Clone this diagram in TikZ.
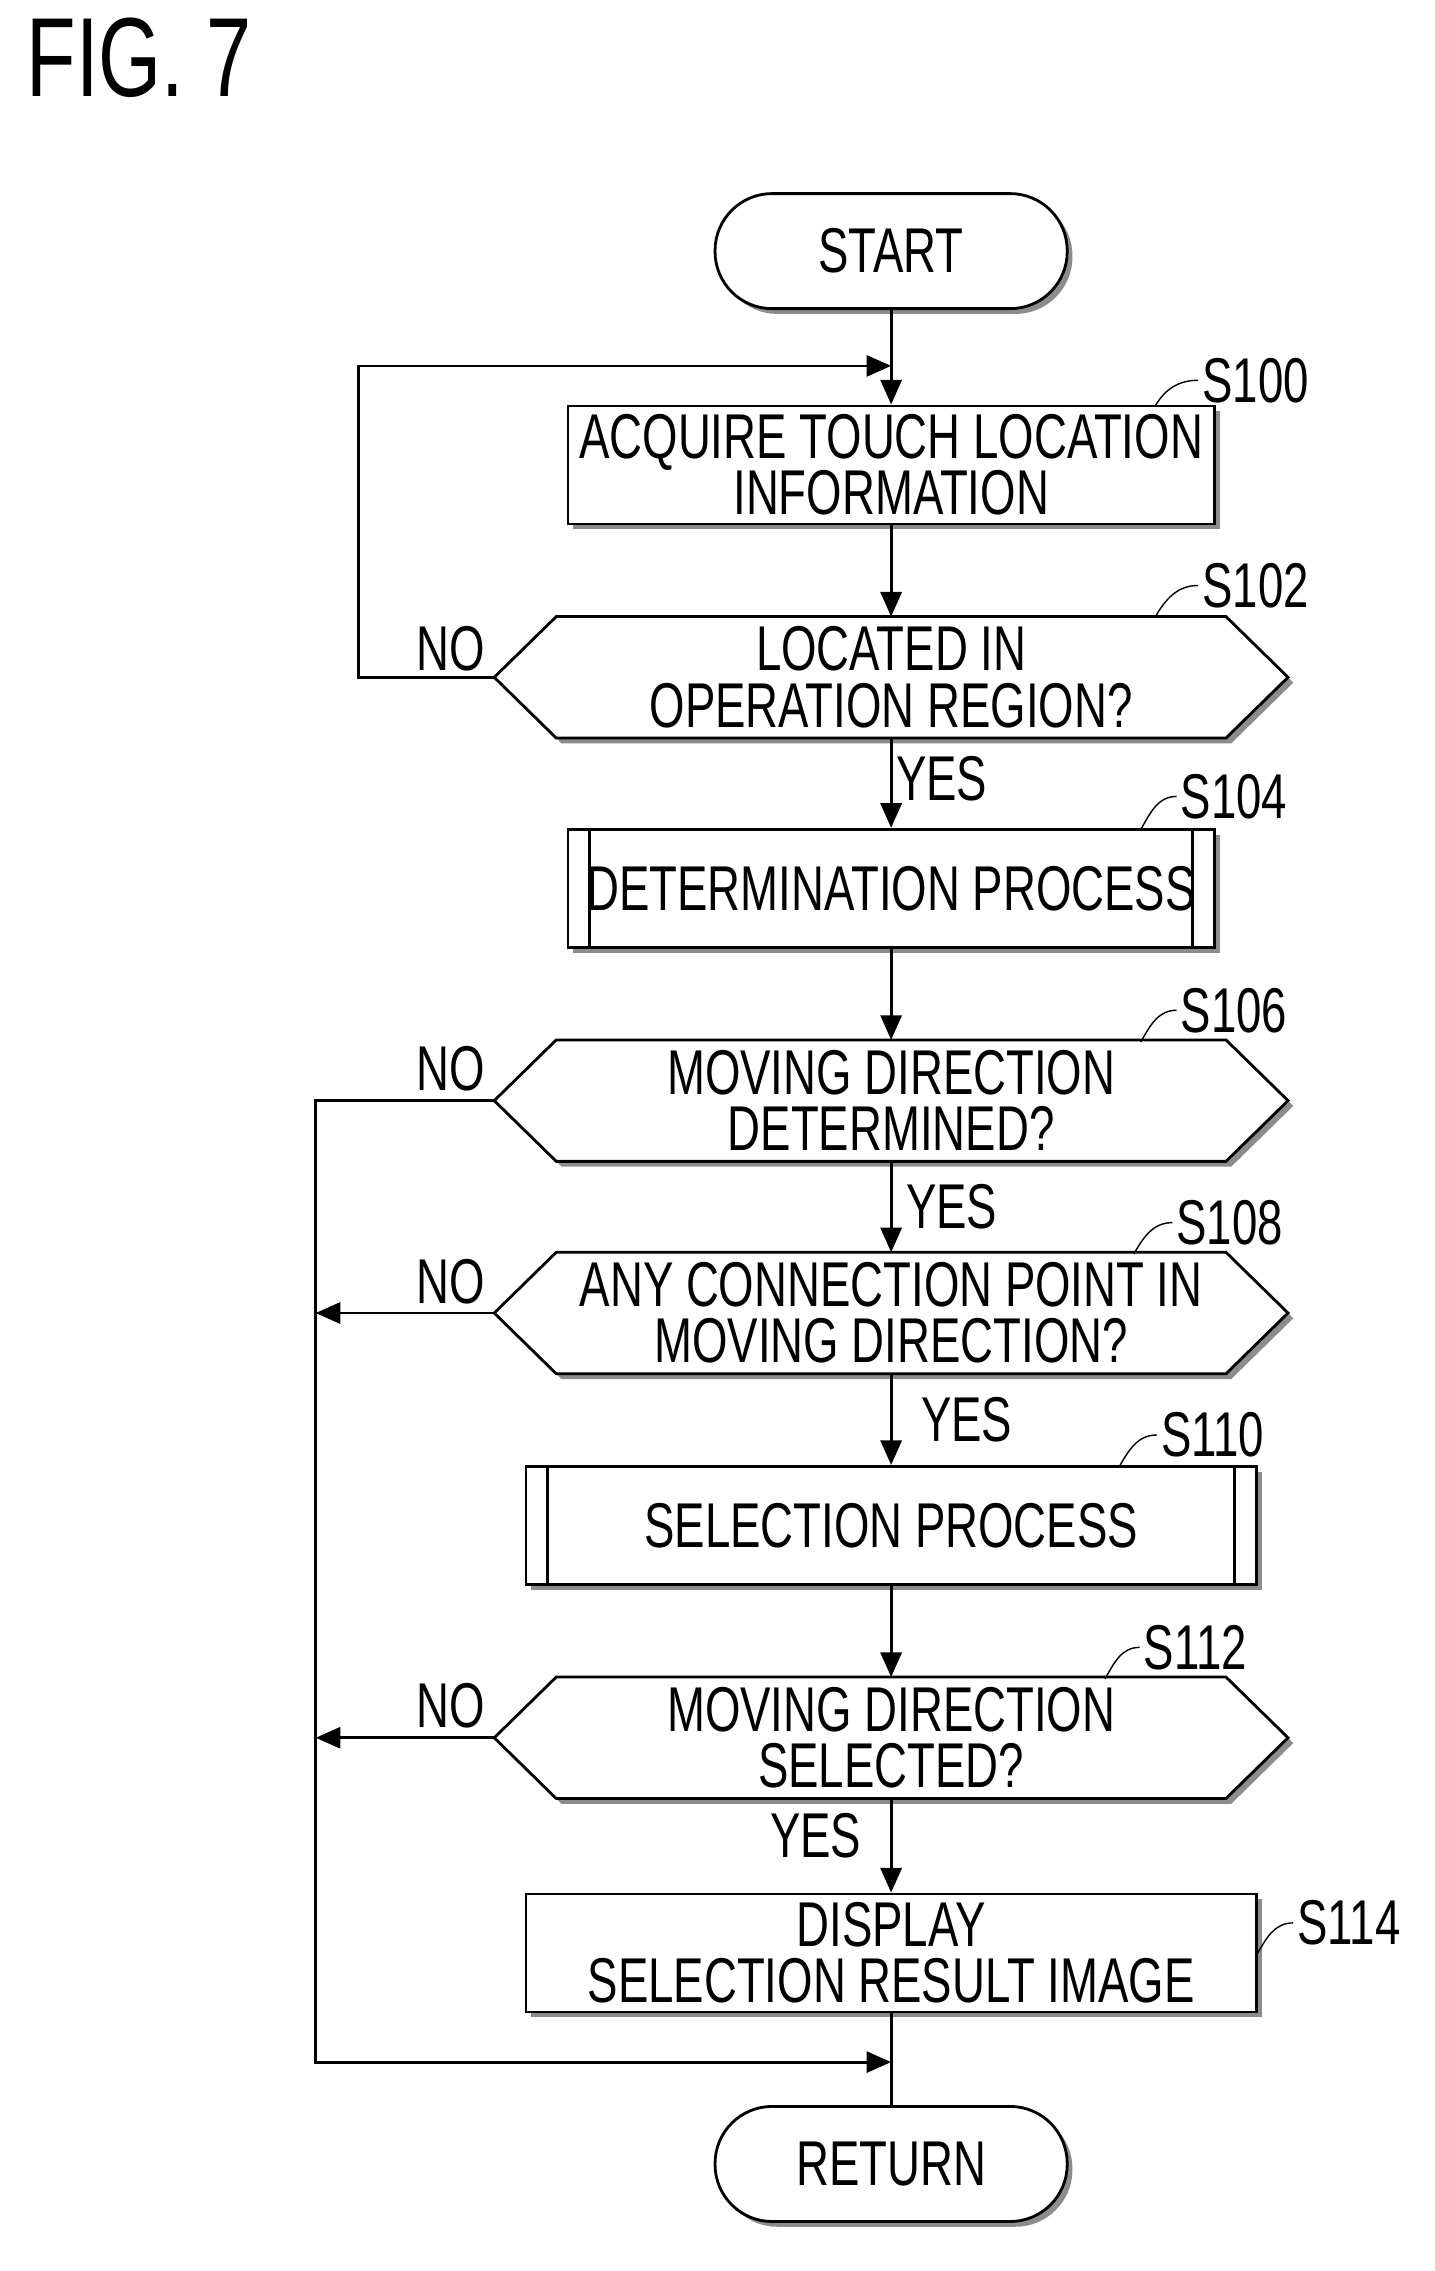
\documentclass[tikz,border=0pt]{standalone}
\usepackage{fontspec}
\setmainfont{Liberation Sans}[FakeStretch=0.72]
\usetikzlibrary{positioning, arrows.meta, shadows}

\tikzset{box/.style =
        {
            rectangle,
            draw,
            thick,
            fill=white,
            drop shadow={shadow xshift=1.5pt, shadow yshift=-1.5pt, fill=black!45, opacity=1},
            minimum width=6.46cm,
            minimum height=1.18cm,
            align=center,
            inner sep=0pt,
            font=\fontsize{18}{16}\selectfont
        }
}
\tikzset{wide/.style = {box, minimum width=7.3cm}}
\tikzset{term/.style = {box, rounded corners=0.57cm, minimum width=3.52cm, minimum height=1.15cm}}
\tikzset{decide/.style =
        {
            rectangle,
            minimum width=7.92cm,
            minimum height=1.2cm,
            align=center,
            inner sep=0pt,
            font=\fontsize{18}{16}\selectfont
        }
}
\tikzset{hexline/.style = {thick, fill=white,
            drop shadow={shadow xshift=1.5pt, shadow yshift=-1.5pt, fill=black!45, opacity=1}}}
\tikzset{flow/.style = {thick, -{Triangle[length=7pt, width=6pt]}}}
\tikzset{line/.style = {thick}}
\tikzset{lab/.style = {font=\fontsize{18}{16}\selectfont, inner sep=1pt}}
\tikzset{steplab/.style = {font=\fontsize{18}{16}\selectfont, inner sep=1pt}}

\begin{document}
\begin{tikzpicture}[x=0.01435cm, y=-0.01435cm]
    \useasboundingbox (0,0) rectangle (1000,1582.6);
    \node[anchor=west, font=\fontsize{32}{32}\selectfont] (fig) at (10,40) {FIG. 7};

    \node[term] (start) at (621,175) {START};
    \node[box] (s100) at (621,324) {ACQUIRE TOUCH LOCATION\\INFORMATION};
    \node[decide] (s102) at (621,472) {};
    \node[box] (s104) at (621,619) {DETERMINATION PROCESS};
    \node[decide] (s106) at (621,767) {};
    \node[decide] (s108) at (621,915) {};
    \node[wide] (s110) at (621,1063) {SELECTION PROCESS};
    \node[decide] (s112) at (621,1211) {};
    \node[wide] (s114) at (621,1361) {DISPLAY\\SELECTION RESULT IMAGE};
    \node[term] (ret) at (621,1508) {RETURN};

    % hexagon outlines
    \foreach \n in {s102, s106, s108, s112}
        \draw[hexline] ([xshift=0.62cm]\n.north west) -- ([xshift=-0.62cm]\n.north east) -- (\n.east)
            -- ([xshift=-0.62cm]\n.south east) -- ([xshift=0.62cm]\n.south west) -- (\n.west) -- cycle;
    \node[decide] (t102) at (s102) {LOCATED IN\\OPERATION REGION?};
    \node[decide] (t106) at (s106) {MOVING DIRECTION\\DETERMINED?};
    \node[decide] (t108) at (s108) {ANY CONNECTION POINT IN\\MOVING DIRECTION?};
    \node[decide] (t112) at (s112) {MOVING DIRECTION\\SELECTED?};

    % sub-process bars
    \draw[line] ([xshift=0.23cm]s104.north west) -- ([xshift=0.23cm]s104.south west);
    \draw[line] ([xshift=-0.23cm]s104.north east) -- ([xshift=-0.23cm]s104.south east);
    \draw[line] ([xshift=0.23cm]s110.north west) -- ([xshift=0.23cm]s110.south west);
    \draw[line] ([xshift=-0.23cm]s110.north east) -- ([xshift=-0.23cm]s110.south east);

    % step labels
    \node[steplab] (l100) at (875,265) {S100};
    \node[steplab] (l102) at (875,408) {S102};
    \node[steplab] (l104) at (860,555) {S104};
    \node[steplab] (l106) at (860,704) {S106};
    \node[steplab] (l108) at (857,852) {S108};
    \node[steplab] (l110) at (845,1000) {S110};
    \node[steplab] (l112) at (833,1148) {S112};
    \node[steplab] (l114) at (940,1340) {S114};
    \foreach \s/\x/\y in {100/805/283, 102/805/430, 104/795/578, 106/795/726, 108/790/874, 110/780/1022, 112/770/1170}
        \draw[line, thin] (\x,\y) to[out=60, in=180] (l\s.west);
    \draw[line, thin] (s114.east) to[out=60, in=180] (l114.west);

    % main flow
    \coordinate (top) at (621,255);
    \coordinate (bot) at (621,1437);
    \draw[flow] (start) -- (s100);
    \draw[flow] (s100) -- (s102);
    \draw[flow] (s102) -- node[lab, right, pos=0.45] {YES} (s104);
    \draw[flow] (s104) -- (s106);
    \draw[flow] (s106) -- node[lab, right=0.1cm, pos=0.5] {YES} (s108);
    \draw[flow] (s108) -- node[lab, right=0.25cm, pos=0.5] {YES} (s110);
    \draw[flow] (s110) -- (s112);
    \draw[flow] (s112) -- node[lab, left=0.25cm, pos=0.4] {YES} (s114);
    \draw[line] (s114) -- (ret);

    % NO branches
    \coordinate (left1) at (250,472);
    \coordinate (left2) at (220,767);
    \coordinate (n108) at (220,915);
    \coordinate (n112) at (220,1211);
    \draw[flow] (s102.west) -- (left1) |- (top);
    \node[lab, above left=0.02cm and 0.05cm of s102.west] (no1) {NO};
    \draw[flow] (s106.west) -- (left2) |- (bot);
    \node[lab, above left=0.05cm and 0.05cm of s106.west] (no2) {NO};
    \draw[flow] (s108.west) -- (n108);
    \node[lab, above left=0.05cm and 0.05cm of s108.west] (no3) {NO};
    \draw[flow] (s112.west) -- (n112);
    \node[lab, above left=0.05cm and 0.05cm of s112.west] (no4) {NO};
\end{tikzpicture}
\end{document}
